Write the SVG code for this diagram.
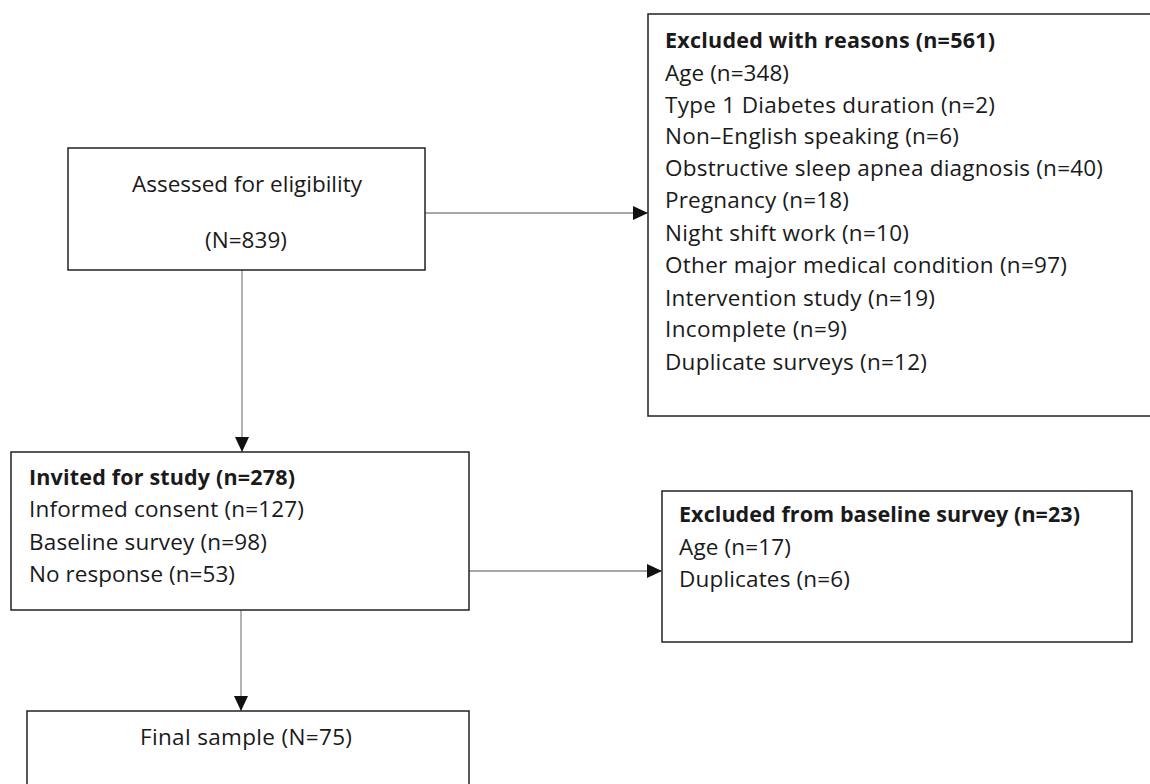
<svg xmlns="http://www.w3.org/2000/svg" width="1150" height="784" viewBox="0 0 1150 784">
<defs>
<style>
.box{fill:#fff;stroke:#222;stroke-width:1.5}
.conn{stroke:#8a8a8a;stroke-width:1.3;fill:none;marker-end:url(#arr)}
.t{font-family:"Open Sans","Liberation Sans",sans-serif;font-size:22.5px;fill:#1a1a1a}
.b{font-weight:700;font-size:21.5px}
.c{text-anchor:middle}
</style>
<marker id="arr" markerUnits="userSpaceOnUse" markerWidth="15" markerHeight="14" refX="15" refY="7" orient="auto">
<path d="M0,0 L15,7 L0,14 z" fill="#111"/>
</marker>
</defs>
<rect width="1150" height="784" fill="#fff"/>
<g id="connectors">
<line class="conn" x1="425" y1="213" x2="648" y2="213"/>
<line class="conn" x1="242" y1="270" x2="242" y2="452"/>
<line class="conn" x1="469" y1="571" x2="662" y2="571"/>
<line class="conn" x1="241" y1="610" x2="241" y2="711"/>
</g>
<g id="assessed">
<rect class="box" x="68" y="148" width="357" height="122"/>
<text class="t c" x="247" y="192" textLength="230" lengthAdjust="spacing">Assessed for eligibility</text>
<text class="t c" x="246" y="248" textLength="82" lengthAdjust="spacing">(N=839)</text>
</g>
<g id="excluded-reasons">
<rect class="box" x="648" y="14" width="510" height="402"/>
<text class="t b" x="665" y="48" textLength="330" lengthAdjust="spacing">Excluded with reasons (n=561)</text>
<text class="t" x="665" y="81" textLength="124" lengthAdjust="spacing">Age (n=348)</text>
<text class="t" x="665" y="113" textLength="330" lengthAdjust="spacing">Type 1 Diabetes duration (n=2)</text>
<text class="t" x="665" y="144" textLength="294" lengthAdjust="spacing">Non–English speaking (n=6)</text>
<text class="t" x="665" y="176" textLength="438" lengthAdjust="spacing">Obstructive sleep apnea diagnosis (n=40)</text>
<text class="t" x="665" y="208" textLength="184" lengthAdjust="spacing">Pregnancy (n=18)</text>
<text class="t" x="665" y="241" textLength="244" lengthAdjust="spacing">Night shift work (n=10)</text>
<text class="t" x="665" y="273" textLength="402" lengthAdjust="spacing">Other major medical condition (n=97)</text>
<text class="t" x="665" y="306" textLength="270" lengthAdjust="spacing">Intervention study (n=19)</text>
<text class="t" x="665" y="337" textLength="182" lengthAdjust="spacing">Incomplete (n=9)</text>
<text class="t" x="665" y="370" textLength="262" lengthAdjust="spacing">Duplicate surveys (n=12)</text>
</g>
<g id="invited">
<rect class="box" x="11" y="452" width="458" height="158"/>
<text class="t b" x="29" y="485" textLength="266" lengthAdjust="spacing">Invited for study (n=278)</text>
<text class="t" x="29" y="517" textLength="275" lengthAdjust="spacing">Informed consent (n=127)</text>
<text class="t" x="29" y="550" textLength="238" lengthAdjust="spacing">Baseline survey (n=98)</text>
<text class="t" x="29" y="582" textLength="206" lengthAdjust="spacing">No response (n=53)</text>
</g>
<g id="excluded-baseline">
<rect class="box" x="662" y="491" width="470" height="151"/>
<text class="t b" x="679" y="522" textLength="401" lengthAdjust="spacing">Excluded from baseline survey (n=23)</text>
<text class="t" x="679" y="555" textLength="112" lengthAdjust="spacing">Age (n=17)</text>
<text class="t" x="679" y="587" textLength="171" lengthAdjust="spacing">Duplicates (n=6)</text>
</g>
<g id="final">
<rect class="box" x="27" y="711" width="442" height="90"/>
<text class="t c" x="246" y="745" textLength="212" lengthAdjust="spacing">Final sample (N=75)</text>
</g>
</svg>
